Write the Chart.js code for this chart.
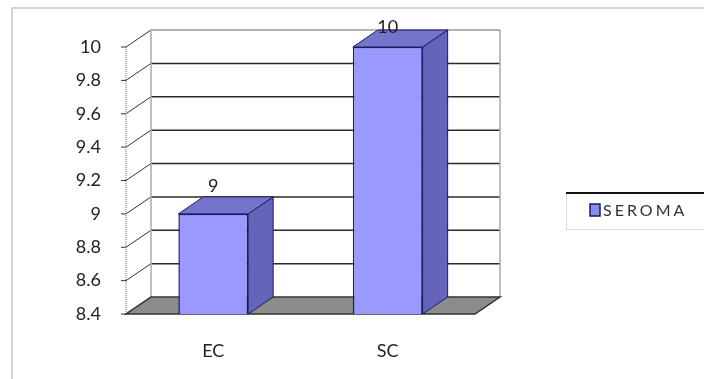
<!DOCTYPE html>
<html lang="es">
<head>
  <meta charset="UTF-8" />
  <title>Seroma</title>
  <script src="https://cdn.jsdelivr.net/npm/chart.js"></script>
  <style>
    html, body { margin: 0; padding: 0; background: #fff; }
    #wrap { width: 704px; height: 379px; position: relative; }
  </style>
</head>
<body>
  <div id="wrap"><canvas id="grafico"></canvas></div>

  <script>
    const categorias = ["EC", "SC"];
    const serieNombre = "SEROMA";
    const valores = [9, 10];
    const ticksY = [8.4, 8.6, 8.8, 9, 9.2, 9.4, 9.6, 9.8, 10];

    const DX = 25, DY = -17; // profundidad del efecto 3D
    const fuente = "Lato, 'Open Sans', sans-serif";

    function poly(ctx, pts, fill, stroke, lw) {
      ctx.beginPath();
      ctx.moveTo(pts[0][0], pts[0][1]);
      for (let i = 1; i < pts.length; i++) ctx.lineTo(pts[i][0], pts[i][1]);
      ctx.closePath();
      if (fill) { ctx.fillStyle = fill; ctx.fill(); }
      if (stroke) { ctx.strokeStyle = stroke; ctx.lineWidth = lw || 1; ctx.stroke(); }
    }

    const efecto3D = {
      id: 'efecto3D',
      beforeDraw(chart) {
        const ctx = chart.ctx;
        // marco exterior
        ctx.save();
        ctx.strokeStyle = '#d4d4d4';
        ctx.lineWidth = 2;
        ctx.beginPath();
        ctx.moveTo(12, 379);
        ctx.lineTo(12, 8);
        ctx.lineTo(704, 8);
        ctx.stroke();
        ctx.restore();
      },
      beforeDatasetsDraw(chart) {
        const ctx = chart.ctx;
        const a = chart.chartArea;
        const y = chart.scales.y;
        ctx.save();
        // pared del fondo: líneas de la cuadrícula
        ticksY.forEach((v, i) => {
          const py = y.getPixelForValue(v);
          if (i > 0) {
            ctx.strokeStyle = i === ticksY.length - 1 ? '#9a9a9a' : '#2a2a2a';
            ctx.lineWidth = 1.5;
            ctx.beginPath();
            ctx.moveTo(a.left + DX, py + DY);
            ctx.lineTo(a.right + DX, py + DY);
            ctx.stroke();
          }
          // pared lateral
          ctx.strokeStyle = '#333';
          ctx.lineWidth = 1;
          ctx.beginPath();
          ctx.moveTo(a.left, py);
          ctx.lineTo(a.left + DX, py + DY);
          ctx.stroke();
          // marca del eje
          ctx.beginPath();
          ctx.moveTo(a.left - 5, py);
          ctx.lineTo(a.left, py);
          ctx.stroke();
        });
        // bordes verticales de la pared
        ctx.strokeStyle = '#aaa';
        ctx.lineWidth = 1.5;
        ctx.beginPath();
        ctx.moveTo(a.left + DX, a.top + DY);
        ctx.lineTo(a.left + DX, a.bottom + DY);
        ctx.moveTo(a.right + DX, a.top + DY);
        ctx.lineTo(a.right + DX, a.bottom + DY);
        ctx.stroke();
        // eje vertical punteado
        ctx.strokeStyle = '#666';
        ctx.lineWidth = 1;
        ctx.setLineDash([1, 1]);
        ctx.beginPath();
        ctx.moveTo(a.left, a.top);
        ctx.lineTo(a.left, a.bottom);
        ctx.stroke();
        ctx.setLineDash([]);
        // suelo
        poly(ctx, [[a.left, a.bottom], [a.right, a.bottom],
                   [a.right + DX, a.bottom + DY], [a.left + DX, a.bottom + DY]],
             '#8c8c8c', '#333', 1.5);
        ctx.restore();
      },
      afterDatasetsDraw(chart) {
        const ctx = chart.ctx;
        const a = chart.chartArea;
        const meta = chart.getDatasetMeta(0);
        ctx.save();
        meta.data.forEach((bar, i) => {
          const p = bar.getProps(['x', 'y', 'base', 'width'], true);
          const l = p.x - p.width / 2, r = p.x + p.width / 2;
          const t = p.y, b = Math.min(p.base, a.bottom);
          // cara lateral
          poly(ctx, [[r, t], [r + DX, t + DY], [r + DX, b + DY], [r, b]],
               '#6464b8', '#1a1a66', 1);
          // cara superior
          poly(ctx, [[l, t], [l + DX, t + DY], [r + DX, t + DY], [r, t]],
               '#7474cc', '#1a1a66', 1);
          // etiqueta de valor
          ctx.fillStyle = '#222';
          ctx.font = '18px ' + fuente;
          ctx.textAlign = 'center';
          ctx.textBaseline = 'bottom';
          ctx.fillText(String(valores[i]), p.x, Math.max(t + DY - 2, 36));
        });
        // leyenda
        ctx.strokeStyle = '#ddd';
        ctx.lineWidth = 1;
        ctx.strokeRect(566.5, 193.5, 150, 36);
        ctx.strokeStyle = '#111';
        ctx.lineWidth = 2;
        ctx.beginPath();
        ctx.moveTo(566, 193);
        ctx.lineTo(704, 193);
        ctx.stroke();
        ctx.fillStyle = '#8b8bec';
        ctx.fillRect(590, 204, 10, 12);
        ctx.strokeStyle = '#1a1a66';
        ctx.lineWidth = 1.5;
        ctx.strokeRect(590, 204, 10, 12);
        ctx.fillStyle = '#333';
        ctx.font = '16px ' + fuente;
        ctx.textAlign = 'left';
        ctx.textBaseline = 'middle';
        ctx.letterSpacing = '3px';
        ctx.fillText(serieNombre, 603, 211);
        ctx.restore();
      }
    };

    new Chart(document.getElementById('grafico'), {
      type: 'bar',
      data: {
        labels: categorias,
        datasets: [{
          label: serieNombre,
          data: valores,
          backgroundColor: '#9999ff',
          borderColor: '#1a1a66',
          borderWidth: 1.5,
          categoryPercentage: 1,
          barPercentage: 0.4
        }]
      },
      options: {
        responsive: true,
        maintainAspectRatio: false,
        animation: false,
        layout: { padding: { top: 47, right: 229, left: 0, bottom: 0 } },
        plugins: {
          legend: { display: false },
          tooltip: { enabled: false }
        },
        scales: {
          x: {
            offset: true,
            grid: { display: false, drawTicks: false },
            border: { display: false },
            ticks: { color: '#222', font: { family: fuente, size: 18 }, padding: 26 },
            afterFit: s => { s.height = 65; }
          },
          y: {
            min: 8.4,
            max: 10,
            afterBuildTicks: s => { s.ticks = ticksY.map(v => ({ value: v })); },
            grid: { display: false, drawTicks: false },
            border: { display: false },
            ticks: {
              color: '#222',
              font: { family: fuente, size: 18 },
              padding: 25,
              callback: v => String(+v.toFixed(1))
            },
            afterFit: s => { s.width = 126; }
          }
        }
      },
      plugins: [efecto3D]
    });
  </script>
</body>
</html>
